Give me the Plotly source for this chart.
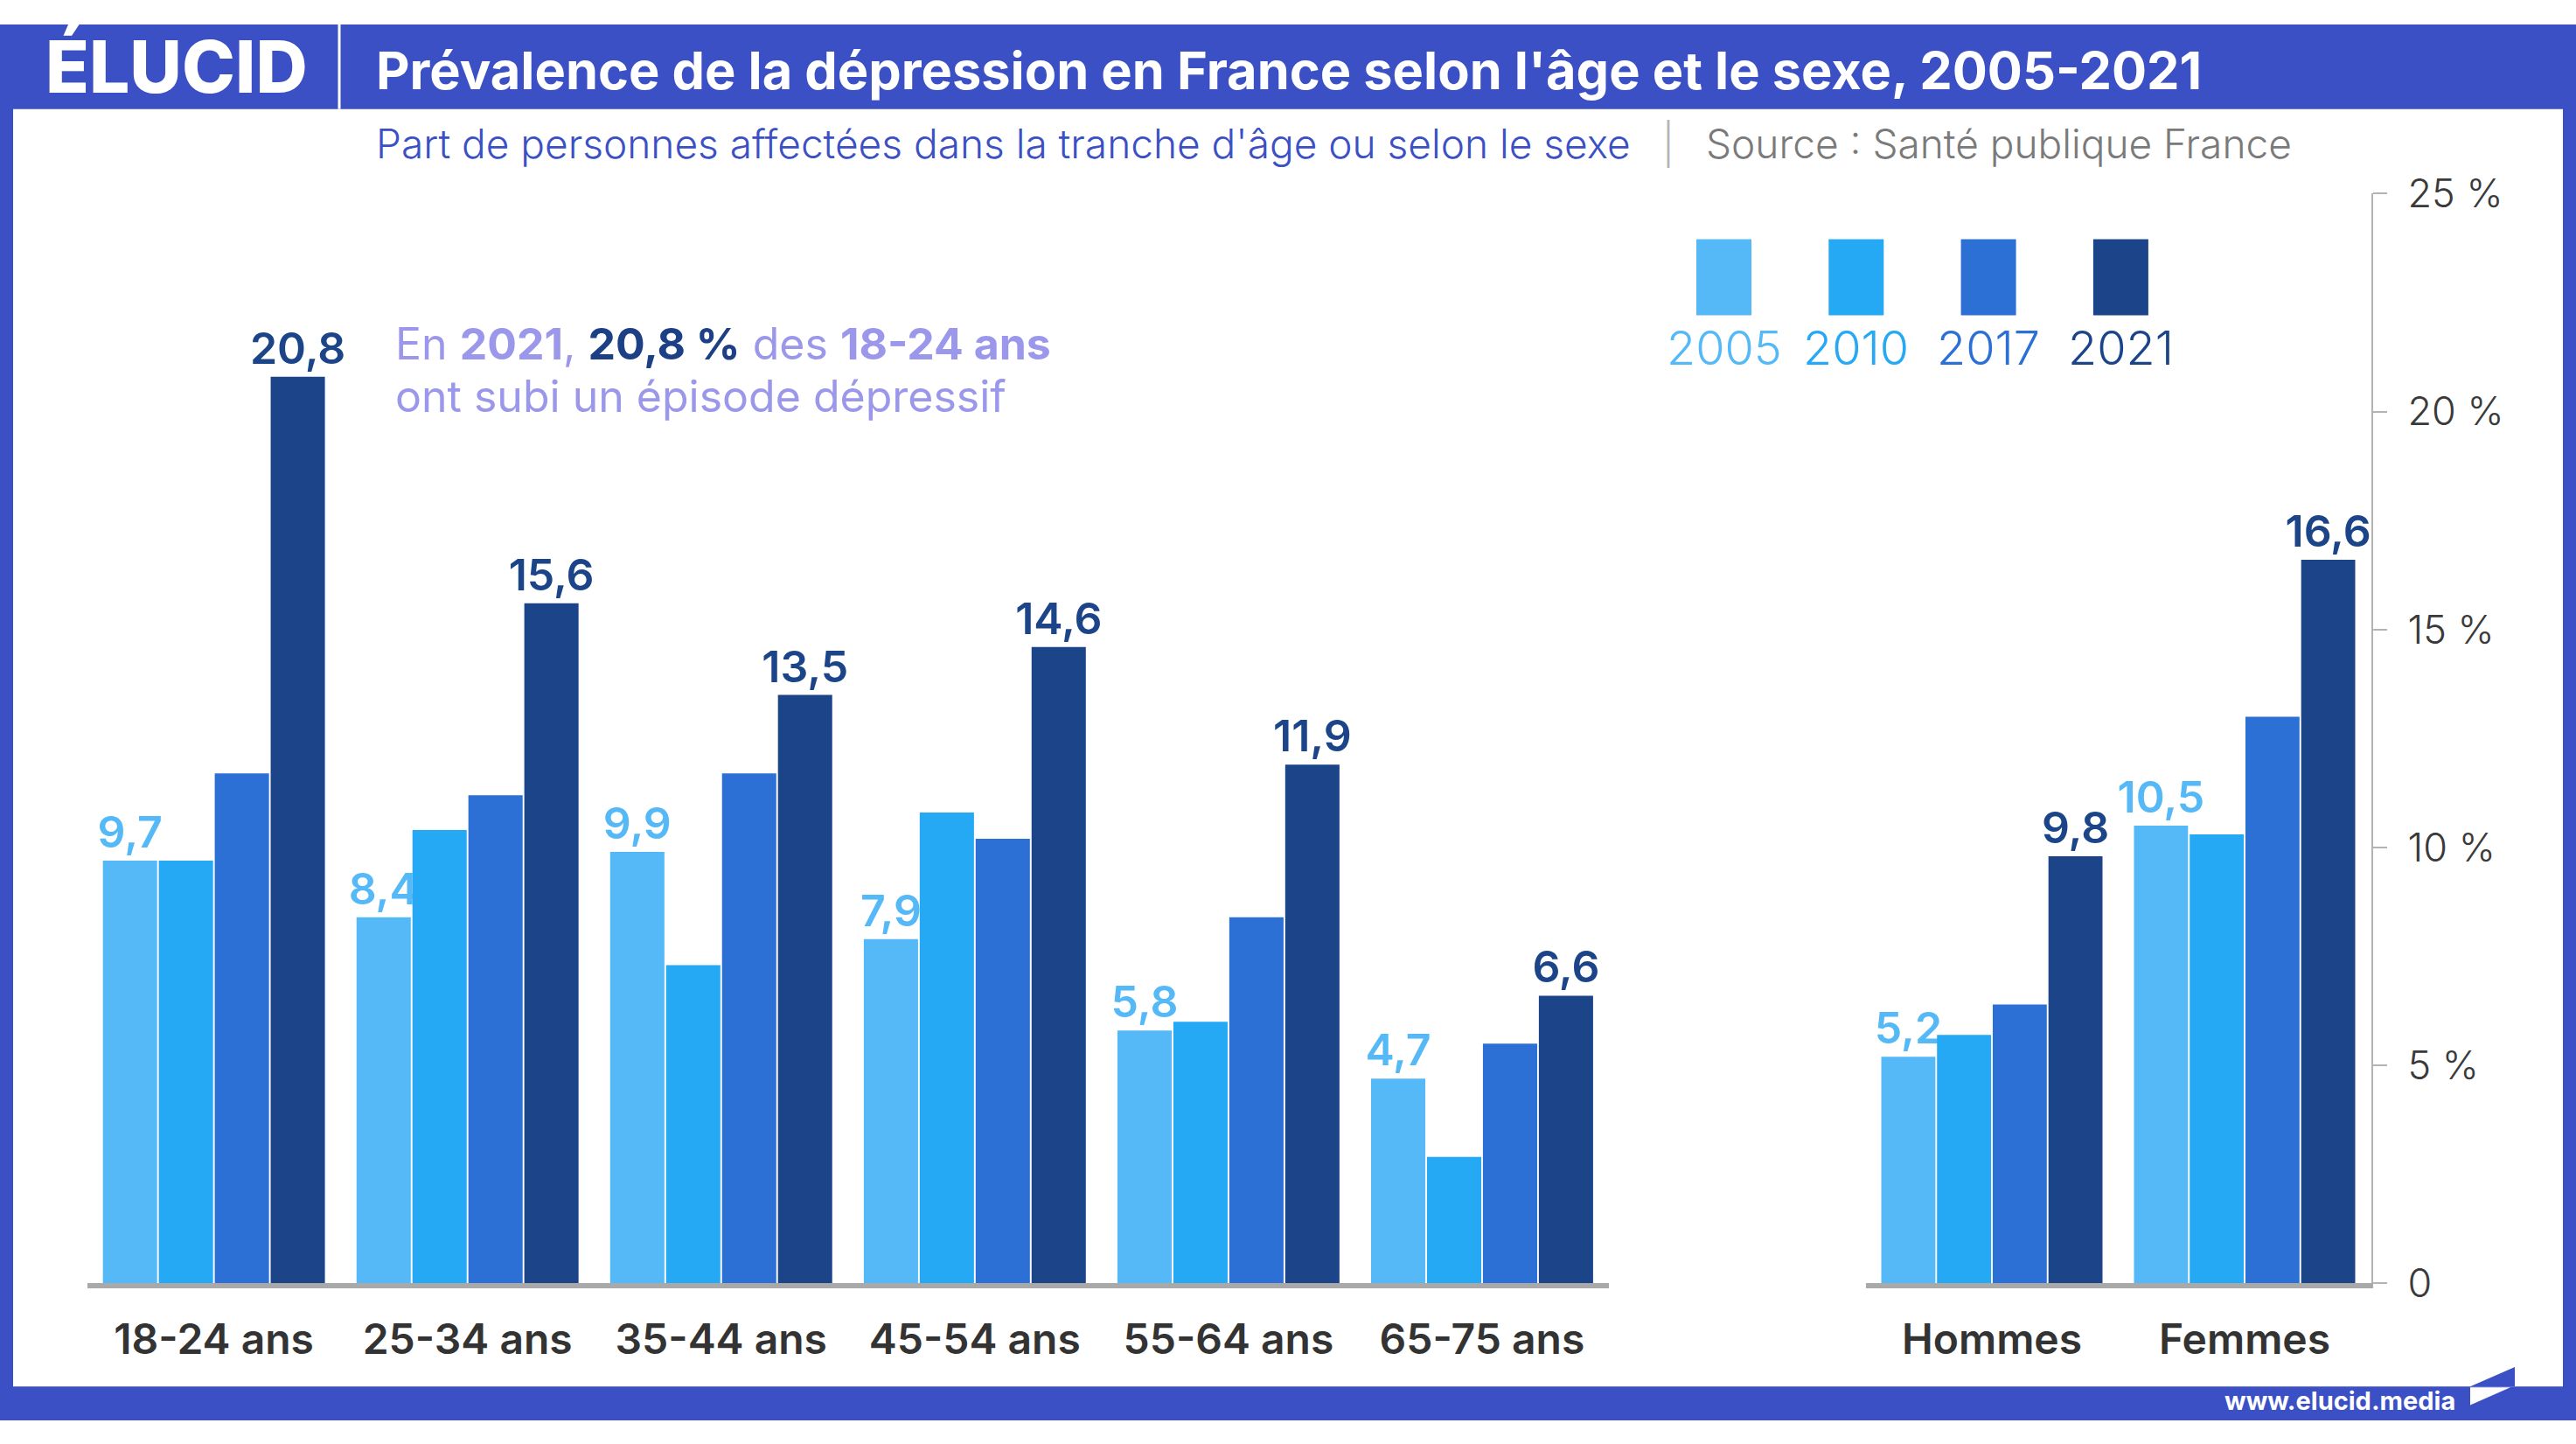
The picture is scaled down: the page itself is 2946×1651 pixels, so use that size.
import plotly.graph_objects as go

W, H = 2946, 1651
FONT = "Inter"

# ---------------- data ----------------
age_groups = ["18-24 ans", "25-34 ans", "35-44 ans", "45-54 ans", "55-64 ans", "65-75 ans"]
sexes = ["Hommes", "Femmes"]
years = ["2005", "2010", "2017", "2021"]
colors = ["#54b9f6", "#26a9f4", "#2c6fd5", "#1c4589"]

age_2005 = [9.7, 8.4, 9.9, 7.9, 5.8, 4.7]
age_2010 = [9.7, 10.4, 7.3, 10.8, 6.0, 2.9]
age_2017 = [11.7, 11.2, 11.7, 10.2, 8.4, 5.5]
age_2021 = [20.8, 15.6, 13.5, 14.6, 11.9, 6.6]

sex_2005 = [5.2, 10.5]
sex_2010 = [5.7, 10.3]
sex_2017 = [6.4, 13.0]
sex_2021 = [9.8, 16.6]

labelled_years = ["2005", "2021"]

y_tickvals = [0, 5, 10, 15, 20, 25]
y_ticktext = ["0", "5 %", "10 %", "15 %", "20 %", "25 %"]

title = "Prévalence de la dépression en France selon l'âge et le sexe, 2005-2021"
subtitle = "Part de personnes affectées dans la tranche d'âge ou selon le sexe"
source = "Source : Santé publique France"

# ---------------- style ----------------
FRAME = "#3c50c5"
PURPLE = "#9b97ea"
NAVY = "#1c3f86"
AXIS_GRAY = "#b3b3b3"
BASE_GRAY = "#a9a9a9"
TXT = "#333333"


def px_x(p):
    return p / W


def px_y(p):
    return 1 - p / H


fig = go.Figure()

age_series = [age_2005, age_2010, age_2017, age_2021]
sex_series = [sex_2005, sex_2010, sex_2017, sex_2021]

for yr, col, a_vals, s_vals in zip(years, colors, age_series, sex_series):
    show = yr in labelled_years
    for cats, vals, xa in [(age_groups, a_vals, "x"), (sexes, s_vals, "x2")]:
        fig.add_trace(go.Bar(
            x=cats, y=vals, name=yr, xaxis=xa, yaxis="y",
            marker=dict(color=col, line=dict(width=0)),
            texttemplate="%{y:.1f}" if show else None,
            textposition="outside" if show else "none",
            textfont=dict(family=FONT, size=50, color=col, weight=600),
            constraintext="none",
            cliponaxis=False, showlegend=False, hoverinfo="skip",
        ))

xaxis_common = dict(
    anchor="y", showline=True, linecolor=BASE_GRAY, linewidth=6,
    ticks="", showgrid=False, zeroline=False, fixedrange=True,
    tickfont=dict(family=FONT, size=48, color=TXT, weight=600),
    ticklabelstandoff=17,
)

fig.update_layout(
    width=W, height=H, autosize=False,
    margin=dict(l=0, r=0, t=0, b=0, pad=0),
    paper_bgcolor="white", plot_bgcolor="white",
    barmode="group", bargap=0.118, bargroupgap=0.03,
    separators=", ",
    font=dict(family=FONT),
    xaxis=dict(domain=[px_x(99.6), px_x(1840)], **xaxis_common),
    xaxis2=dict(domain=[px_x(2133.5), px_x(2711.5)], **xaxis_common),
    yaxis=dict(
        domain=[px_y(1489), px_y(200)], range=[0, 25], anchor="x2", side="right",
        showline=True, linecolor=AXIS_GRAY, linewidth=2,
        ticks="outside", ticklen=16, tickwidth=2, tickcolor=AXIS_GRAY,
        tickvals=y_tickvals, ticktext=y_ticktext,
        showgrid=False, zeroline=False, fixedrange=True,
        tickfont=dict(family=FONT, size=45, color="#3a3a3a", weight=300),
        ticklabelstandoff=15,
    ),
)

shapes = []
# frame
shapes.append(dict(type="rect", xref="paper", yref="paper", x0=0, x1=1, y0=px_y(100), y1=1,
                   fillcolor=FRAME, line=dict(width=0), layer="above"))
shapes.append(dict(type="rect", xref="paper", yref="paper", x0=0, x1=1, y0=0, y1=px_y(1611),
                   fillcolor=FRAME, line=dict(width=0), layer="above"))
shapes.append(dict(type="rect", xref="paper", yref="paper", x0=0, x1=px_x(15), y0=0, y1=1,
                   fillcolor=FRAME, line=dict(width=0), layer="above"))
shapes.append(dict(type="rect", xref="paper", yref="paper", x0=px_x(2931), x1=1, y0=0, y1=1,
                   fillcolor=FRAME, line=dict(width=0), layer="above"))
# separator in the title band
shapes.append(dict(type="line", xref="paper", yref="paper", x0=px_x(388), x1=px_x(388),
                   y0=px_y(100), y1=1, line=dict(color="white", width=3), layer="above"))
# small logo at bottom right
shapes.append(dict(type="path", xref="paper", yref="paper",
                   path=f"M {px_x(2825)},{px_y(1611)} L {px_x(2876)},{px_y(1588)} L {px_x(2876)},{px_y(1611)} Z",
                   fillcolor=FRAME, line=dict(width=0), layer="above"))
shapes.append(dict(type="path", xref="paper", yref="paper",
                   path=f"M {px_x(2825)},{px_y(1612)} L {px_x(2871)},{px_y(1612)} L {px_x(2825)},{px_y(1633)} Z",
                   fillcolor="white", line=dict(width=0), layer="above"))

annotations = []
# legend (custom)
for i, (yr, col) in enumerate(zip(years, colors)):
    left = 1940 + i * 151.3
    shapes.append(dict(type="rect", xref="paper", yref="paper",
                       x0=px_x(left), x1=px_x(left + 63), y0=px_y(344), y1=px_y(254),
                       fillcolor=col, line=dict(width=0)))
    annotations.append(dict(xref="paper", yref="paper", x=px_x(left + 31.5), y=px_y(382),
                            xanchor="center", yanchor="middle", showarrow=False, text=yr,
                            font=dict(family=FONT, size=54, color=col, weight=300)))

# logo
annotations.append(dict(xref="paper", yref="paper", x=px_x(50), y=px_y(50), xanchor="left",
                        yanchor="middle", showarrow=False, text="ÉLUCID",
                        font=dict(family=FONT, size=82, color="white", weight=800)))
# title
annotations.append(dict(xref="paper", yref="paper", x=px_x(428), y=px_y(54), xanchor="left",
                        yanchor="middle", showarrow=False, text=title,
                        font=dict(family=FONT, size=59.5, color="white", weight=700)))
# subtitle + source
annotations.append(dict(xref="paper", yref="paper", x=px_x(428), y=px_y(141), xanchor="left",
                        yanchor="middle", showarrow=False,
                        text=(f"<span style='color:{FRAME}'>{subtitle}</span>"
                              f"<span style='color:#b5b5b5'>\u2002 |\u2002 </span>"
                              f"<span style='color:#7a7a7a'>{source}</span>"),
                        font=dict(family=FONT, size=46, color=FRAME, weight=300)))


def fr(v):
    return f"{v:.1f}".replace(".", ",")


line1 = (f"<span style='color:{PURPLE}'>En <b>{years[-1]}</b>, </span>"
         f"<span style='color:{NAVY}'><b>{fr(age_2021[0])} %</b></span>"
         f"<span style='color:{PURPLE}'> des <b>{age_groups[0]}</b></span>")
line2 = f"<span style='color:{PURPLE}'>ont subi un épisode dépressif</span>"
annotations.append(dict(xref="paper", yref="paper", x=px_x(450), y=px_y(378), xanchor="left",
                        yanchor="middle", showarrow=False, text=line1,
                        font=dict(family=FONT, size=50, color=PURPLE, weight=400)))
annotations.append(dict(xref="paper", yref="paper", x=px_x(450), y=px_y(440), xanchor="left",
                        yanchor="middle", showarrow=False, text=line2,
                        font=dict(family=FONT, size=50, color=PURPLE, weight=400)))
# website
annotations.append(dict(xref="paper", yref="paper", x=px_x(2810), y=px_y(1628), xanchor="right",
                        yanchor="middle", showarrow=False, text="www.elucid.media",
                        font=dict(family=FONT, size=29, color="white", weight=700)))

fig.update_layout(shapes=shapes, annotations=annotations)

fig.write_html(
    "out.html",
    include_plotlyjs=True,
    config={"displayModeBar": False, "staticPlot": True},
    post_script="document.body.style.margin='0';document.body.style.overflow='hidden';",
)
